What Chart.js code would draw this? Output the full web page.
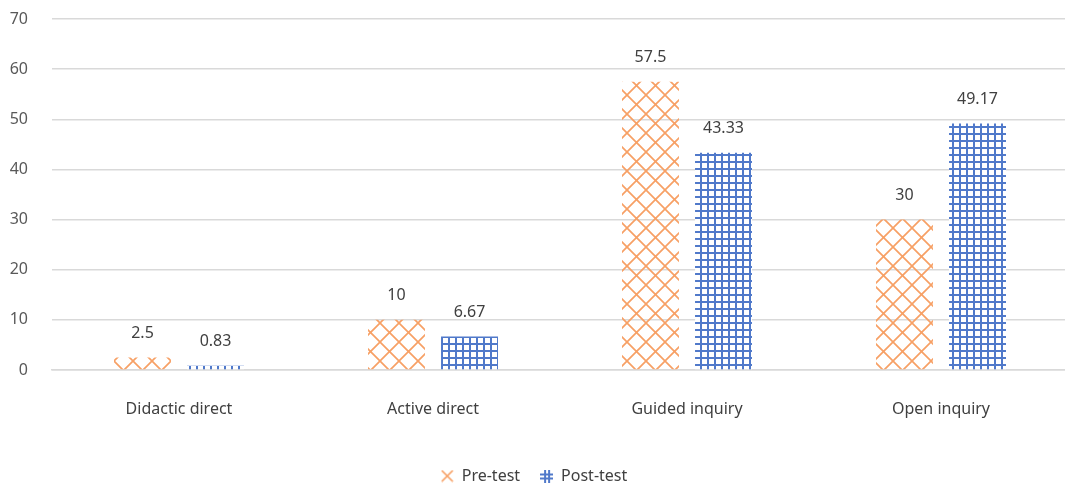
<!DOCTYPE html>
<html>
<head>
<meta charset="utf-8">
<script src="https://cdn.jsdelivr.net/npm/chart.js@4/dist/chart.umd.min.js"></script>
<style>
  html, body { margin: 0; padding: 0; background: #fff; overflow: hidden; }
  #wrap { width: 1069px; height: 484px; position: relative; }
</style>
</head>
<body>
<div id="wrap"><canvas id="chart"></canvas></div>
<script>
const categories = [ 'Didactic direct', 'Active direct', 'Guided inquiry', 'Open inquiry' ];
const preTest = [ 2.5, 10, 57.5, 30 ];
const postTest = [ 0.83, 6.67, 43.33, 49.17 ];
const seriesNames = [ 'Pre-test', 'Post-test' ];

// orange diamond lattice
function crossPattern()
{
    const c = document.createElement( 'canvas' );
    c.width = 19; c.height = 19;
    const g = c.getContext( '2d' );
    g.strokeStyle = '#F7A065';
    g.lineWidth = 1.7;
    g.beginPath();
    g.moveTo( 0, 0 ); g.lineTo( 19, 19 );
    g.moveTo( 19, 0 ); g.lineTo( 0, 19 );
    g.stroke();
    return g.createPattern( c, 'repeat' );
}

// blue square grid
function gridPattern()
{
    const c = document.createElement( 'canvas' );
    c.width = 7; c.height = 7;
    const g = c.getContext( '2d' );
    g.fillStyle = '#fff';
    g.fillRect( 0, 0, 7, 7 );
    g.fillStyle = '#5079CA';
    g.fillRect( 0, 0, 7, 2 );
    g.fillRect( 0, 0, 2, 7 );
    return g.createPattern( c, 'repeat' );
}

function legendIcon( kind )
{
    const c = document.createElement( 'canvas' );
    c.width = 13; c.height = 13;
    const g = c.getContext( '2d' );
    if ( kind === 'x' ) {
        g.strokeStyle = '#F7A065';
        g.lineWidth = 1.7;
        g.beginPath();
        g.moveTo( 1, 1 ); g.lineTo( 12, 12 );
        g.moveTo( 12, 1 ); g.lineTo( 1, 12 );
        g.stroke();
    } else {
        g.fillStyle = '#5079CA';
        g.fillRect( 0, 4, 13, 2 );
        g.fillRect( 0, 8, 13, 2 );
        g.fillRect( 4, 0, 2, 13 );
        g.fillRect( 8, 0, 2, 13 );
    }
    return c;
}

const valueLabels = {
    id: 'valueLabels',
    afterDatasetsDraw( chart )
    {
        const ctx = chart.ctx;
        ctx.save();
        ctx.font = '16px "Noto Sans"';
        ctx.fillStyle = '#404040';
        ctx.textAlign = 'center';
        ctx.textBaseline = 'middle';
        chart.data.datasets.forEach( ( ds, i ) => {
            chart.getDatasetMeta( i ).data.forEach( ( bar, j ) => {
                ctx.fillText( String( ds.data[ j ] ), bar.x, bar.y - 24 );
            } );
        } );
        ctx.restore();
    }
};

document.addEventListener( 'DOMContentLoaded', function ()
{
    const icons = [ legendIcon( 'x' ), legendIcon( '+' ) ];
    new Chart( document.getElementById( 'chart' ), {
        type: 'bar',
        data: {
            labels: categories,
            datasets: [
                { label: seriesNames[ 0 ], data: preTest, backgroundColor: crossPattern() },
                { label: seriesNames[ 1 ], data: postTest, backgroundColor: gridPattern() }
            ]
        },
        options: {
            responsive: true,
            maintainAspectRatio: false,
            animation: false,
            categoryPercentage: 0.575,
            barPercentage: 0.78,
            layout: { padding: { top: 19, right: 1, left: 0, bottom: -10 } },
            plugins: {
                tooltip: { enabled: false },
                legend: {
                    position: 'bottom',
                    labels: {
                        font: { family: 'Noto Sans', size: 16 },
                        color: '#404040',
                        usePointStyle: true,
                        boxWidth: 13,
                        boxHeight: 13,
                        padding: 20,
                        generateLabels: function ( chart )
                        {
                            return chart.data.datasets.map( ( ds, i ) => ( {
                                text: ds.label,
                                pointStyle: icons[ i ],
                                fontColor: '#404040',
                                lineWidth: 0,
                                datasetIndex: i
                            } ) );
                        }
                    }
                }
            },
            scales: {
                x: {
                    afterFit: function ( axis ) { axis.height = 78; },
                    grid: { display: false },
                    border: { color: '#D9D9D9', width: 1.5 },
                    ticks: { font: { family: 'Noto Sans', size: 16 }, color: '#404040', padding: 22 }
                },
                y: {
                    min: 0,
                    max: 70,
                    afterFit: function ( axis ) { axis.width = 52; },
                    border: { display: false },
                    grid: { color: '#D9D9D9', lineWidth: 1.5, drawTicks: true, tickLength: 24, tickColor: 'transparent' },
                    ticks: { stepSize: 10, font: { family: 'Noto Sans', size: 16 }, color: '#595959', padding: 0 }
                }
            }
        },
        plugins: [ valueLabels ]
    } );
} );
</script>
</body>
</html>
